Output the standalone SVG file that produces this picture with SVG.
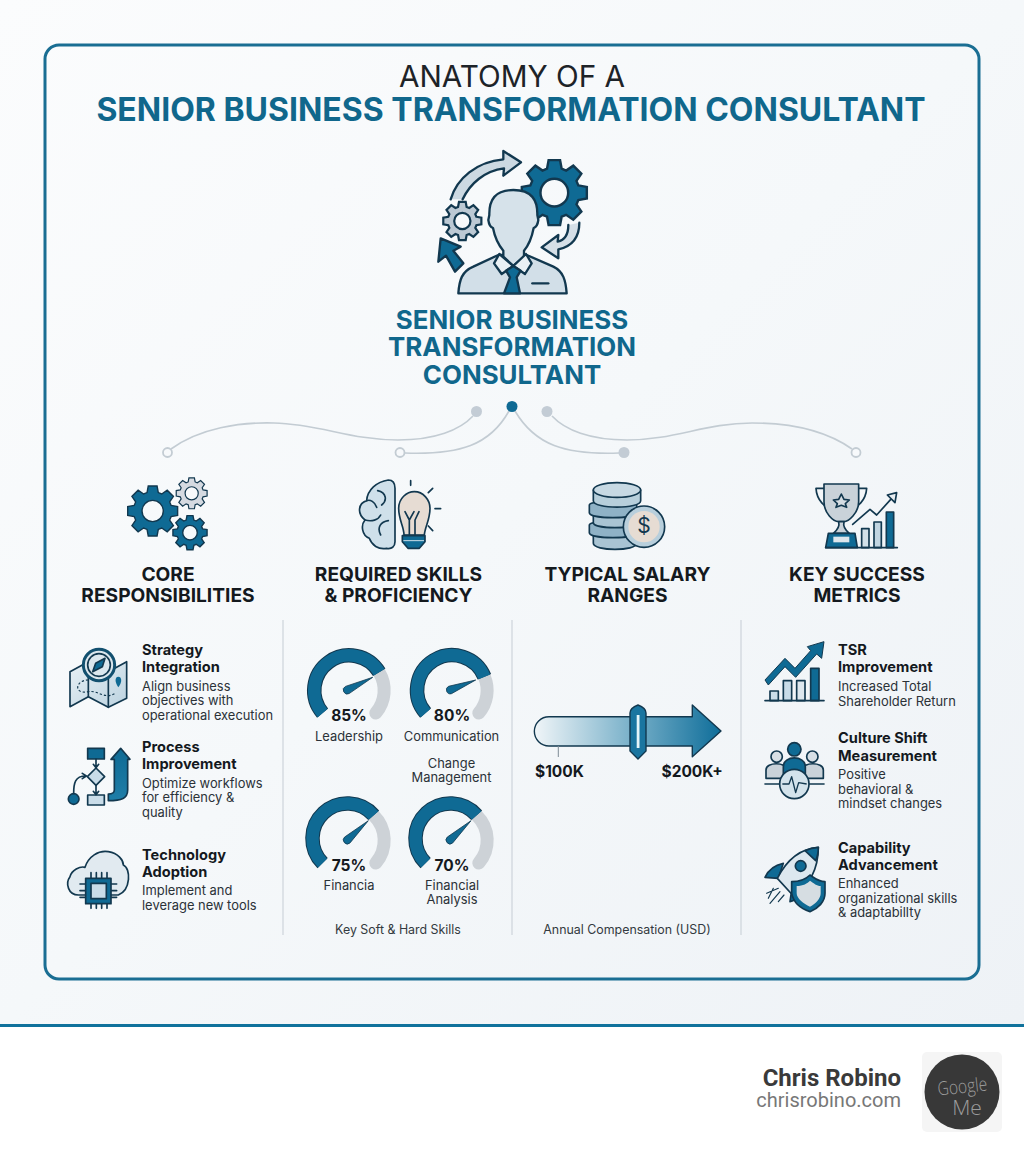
<svg xmlns="http://www.w3.org/2000/svg" width="1024" height="1154" viewBox="0 0 1024 1154">
<style>
text{font-family:Inter,"Liberation Sans",sans-serif}
.ti{font-size:32px;fill:#10678c;font-weight:700;text-anchor:middle}
.su{font-size:25.9px;fill:#10678c;font-weight:700;text-anchor:middle}
.hd{font-size:19.2px;fill:#14191e;font-weight:700;text-anchor:middle}
.it{font-size:14.6px;fill:#14191e;font-weight:700}
.ds{font-size:12.9px;fill:#2b3238}
.lb{font-size:12.9px;fill:#2b3238;text-anchor:middle}
.pc{font-size:15.5px;fill:#14191e;font-weight:700;text-anchor:middle}
.sl{font-size:15.5px;fill:#14191e;font-weight:700}
.cp{font-size:12.4px;fill:#333a40;text-anchor:middle}
.ln{fill:none;stroke:#c3ccd3;stroke-width:1.6}
.dv{stroke:#cdd4da;stroke-width:1.2}
.o{stroke:#12384f;stroke-width:7;stroke-linejoin:round;stroke-linecap:round}
.t{stroke:#12384f;stroke-width:5;stroke-linejoin:round;stroke-linecap:round}
.nf{fill:none}
.b{fill:#0f6a94}
.l{fill:#d2dfe8}
.g-s{vector-effect:non-scaling-stroke;fill-rule:evenodd}
.ga{fill:none;stroke:#12384f;stroke-width:14.5}
.gb{fill:none;stroke:#0f6a94;stroke-width:12.5}
.gg{fill:none;stroke:#cdd2d7;stroke-width:13;stroke-linecap:round}
.nd{fill:#0f6a94;stroke:#12384f;stroke-width:.8}
</style>
<defs>
<linearGradient id="bg" x1="0" y1="0" x2="1" y2="1"><stop offset="0" stop-color="#fbfcfd"/><stop offset=".5" stop-color="#f5f8fa"/><stop offset="1" stop-color="#eef2f6"/></linearGradient>
<linearGradient id="bar" x1="0" y1="0" x2="1" y2="0"><stop offset="0" stop-color="#f0f5f8"/><stop offset=".5" stop-color="#7db3cb"/><stop offset="1" stop-color="#0f6e9a"/></linearGradient>
<linearGradient id="lg" x1="0" y1="0" x2="1" y2="1"><stop offset="0" stop-color="#e8f0f5"/><stop offset="1" stop-color="#bcd3e0"/></linearGradient>
<linearGradient id="bu" x1="0" y1="0" x2="0" y2="1"><stop offset="0" stop-color="#0f6a94"/><stop offset="1" stop-color="#1f7ea8"/></linearGradient>
<path id="gear" class="g-s" d="M72.7-22.2L98.5-17.4L98.5 17.4L72.7 22.2L67.1 35.7L81.9 57.4L57.4 81.9L35.7 67.1L22.2 72.7L17.4 98.5L-17.4 98.5L-22.2 72.7L-35.7 67.1L-57.4 81.9L-81.9 57.4L-67.1 35.7L-72.7 22.2L-98.5 17.4L-98.5-17.4L-72.7-22.2L-67.1-35.7L-81.9-57.4L-57.4-81.9L-35.7-67.1L-22.2-72.7L-17.4-98.5L17.4-98.5L22.2-72.7L35.7-67.1L57.4-81.9L81.9-57.4L67.1-35.7ZM42 0A42 42 0 1 0-42 0A42 42 0 1 0 42 0Z"/>
</defs>
<rect width="1024" height="1154" fill="#fff"/>
<rect id="backdrop" width="1024" height="1025" fill="url(#bg)"/>
<rect x="0" y="1024" width="1024" height="3" fill="#10729c"/>
<rect id="frame" x="45" y="45" width="934" height="934" rx="14" fill="none" stroke="#1a6e93" stroke-width="3"/>

<g id="title">
<text x="512" y="87" font-size="29.700" fill="#1d2328" text-anchor="middle">ANATOMY OF A</text>
<text class="ti" x="511" y="121">SENIOR BUSINESS TRANSFORMATION CONSULTANT</text>
</g>

<g id="hero">
<g transform="translate(420 140) scale(.33333)">
<path class="o" fill="#ccd9e2" d="M92 178C110 115 170 65 250 58L250 33L303 67L250 107L252 85C195 92 150 130 128 178"/>
<path class="o b" d="M62 295L122 320L100 332L130 370L105 395L78 347L55 365Z"/>
<path class="o" fill="#d5dfe7" d="M478 248C478 290 460 318 415 328L415 355L365 322L415 285L413 305C435 300 445 280 445 255"/>
<use href="#gear" transform="translate(403 158) scale(.99)" class="b" stroke="#12384f" stroke-width="2.4"/>
<use href="#gear" transform="translate(127 243) scale(.58)" fill="#bcc9d4" stroke="#12384f" stroke-width="2.2"/>
<path class="o l" d="M115 460C118 420 125 395 160 380L235 345L320 345L400 380C430 395 437 420 440 460Z"/>
<path class="o" fill="#d6e2ea" d="M280 150C225 150 207 180 208 225L205 240C207 255 213 262 219 264C225 295 238 318 250 332L250 350L280 378L312 350L312 332C324 318 335 295 341 264C347 262 353 255 355 240L352 225C353 180 335 150 280 150Z"/>
<path class="o" fill="#e9f0f4" d="M238 342L222 370L245 402L280 378L315 402L335 370L318 342L280 378Z"/>
<path class="o b" d="M258 392L280 378L302 392L290 412L300 460L252 460L270 412Z"/>
<path class="o nf" d="M337 430L385 430"/>
</g>
</g>
<g id="role-label">
<text class="su" x="512" y="329">SENIOR BUSINESS</text>
<text class="su" x="512" y="356">TRANSFORMATION</text>
<text class="su" x="512" y="384">CONSULTANT</text>
</g>

<g id="connectors">
<path class="ln" d="M171 449C200 428 240 422 274 423C320 424 350 440 398 440C435 440 460 430 473 416"/>
<path class="ln" d="M552 416C565 430 590 440 627 440C675 440 705 423 752 423C790 423 825 430 852 449"/>
<path class="ln" d="M405 453C460 455 490 445 509 411"/>
<path class="ln" d="M515 411C535 445 565 455 619 453"/>
<circle cx="476.500" cy="411.500" r="5.500" fill="#c3ccd5"/>
<circle cx="512" cy="406.500" r="5.500" fill="#0f6a94"/>
<circle cx="547" cy="411.500" r="5.500" fill="#c3ccd5"/>
<circle cx="167.500" cy="452.500" r="4.500" fill="#f7f9fb" stroke="#c3ccd3" stroke-width="1.8"/>
<circle cx="400" cy="452.500" r="4.500" fill="#f7f9fb" stroke="#c3ccd3" stroke-width="1.8"/>
<circle cx="624" cy="452.500" r="5.500" fill="#c3ccd5"/>
<circle cx="856" cy="452.500" r="4.500" fill="#f7f9fb" stroke="#c3ccd3" stroke-width="1.8"/>
</g>

<line class="dv" x1="283" y1="620" x2="283" y2="935"/>
<line class="dv" x1="512" y1="620" x2="512" y2="935"/>
<line class="dv" x1="741" y1="620" x2="741" y2="935"/>

<g id="core-responsibilities">
<g transform="translate(110 470) scale(.33333)">
<use href="#gear" transform="translate(128 123) scale(.76)" class="b" stroke="#12384f" stroke-width="1.400"/>
<use href="#gear" transform="translate(245 70) scale(.47)" fill="#d5dae1" stroke="#12384f" stroke-width="1.200"/>
<use href="#gear" transform="translate(240 188) scale(.52)" class="b" stroke="#12384f" stroke-width="1.400"/>
</g>
<text class="hd" x="168" y="581">CORE</text>
<text class="hd" x="168" y="602">RESPONSIBILITIES</text>
<g transform="translate(55 630) scale(.33333)">
<path class="t" fill="url(#lg)" d="M45 125L100 95L160 125L215 95L215 205L160 232L100 200L45 230Z"/>
<path class="t nf" d="M100 95L100 200M160 125L160 232"/>
<path class="nf" stroke="#12384f" stroke-width="3.500" stroke-dasharray="7 6" d="M100 150C60 150 55 195 100 185C130 180 150 210 180 190"/>
<path class="b" d="M190 140C200 140 203 155 190 172C178 155 180 140 190 140Z"/>
<circle cx="132" cy="105" r="47" fill="#dbe7ee" stroke="#12506f" stroke-width="9"/>
<circle cx="132" cy="105" r="34" class="t" fill="#dbe7ee"/>
<path class="t" fill="#0f6a94" d="M150 85L122 100L113 125L142 110Z"/>
<path class="t b" d="M98 355H148V387H98Z"/>
<path class="t" fill="#c9dce8" d="M123 414L149 440L123 466L97 440Z"/>
<path class="t" fill="#c9dce8" d="M98 495H148V525H98Z"/>
<circle cx="56" cy="507" r="16" class="t b"/>
<path class="t nf" d="M56 490C56 460 60 438 92 438M82 430L94 438L82 446M123 387V412M115 403L123 413L131 403M123 466V493M115 484L123 494L131 484"/>
<path class="t" fill="url(#bu)" d="M160 512C200 512 218 505 218 480L218 388L225 388L197 355L168 388L178 388L178 480C178 490 172 492 160 492Z"/>
<path class="t" fill="#e1eaf0" d="M70 795C40 795 30 760 45 740C50 720 75 708 90 712C100 680 130 660 160 665C190 670 205 690 205 705C228 715 228 780 190 795Z"/>
<path class="t nf" d="M108 745V728M124 745V728M140 745V728M156 745V728M108 820V835M124 820V835M140 820V835M156 820V835M92 762H75M92 782H75M92 802H75M168 762H185M168 782H185M168 802H185"/>
<rect x="92" y="745" width="76" height="76" class="t b"/>
<rect x="108" y="760" width="46" height="46" class="t" fill="#c9dce8"/>
</g>
<text class="it" x="142" y="655">Strategy</text><text class="it" x="142" y="672">Integration</text>
<text class="ds" x="142" y="691">Align business</text><text class="ds" x="142" y="705">objectives with</text><text class="ds" x="142" y="720">operational execution</text>
<text class="it" x="142" y="752">Process</text><text class="it" x="142" y="769">Improvement</text>
<text class="ds" x="142" y="788">Optimize workflows</text><text class="ds" x="142" y="802">for efficiency &amp;</text><text class="ds" x="142" y="817">quality</text>
<text class="it" x="142" y="860">Technology</text><text class="it" x="142" y="877">Adoption</text>
<text class="ds" x="142" y="895">Implement and</text><text class="ds" x="142" y="910">leverage new tools</text>
</g>

<g id="required-skills">
<g transform="translate(110 470) scale(.33333)">
<path class="t" fill="#cfe0ea" d="M835 30C850 30 855 40 855 55L855 215C855 230 845 238 830 235C805 240 785 225 778 205C755 195 752 165 765 150C740 130 745 100 770 92C772 60 800 35 835 30Z"/>
<path class="t nf" d="M803 62C830 68 832 92 815 105M770 92C780 88 795 95 800 112M765 150C785 156 805 150 812 135M835 152C812 155 800 172 812 195"/>
<path class="t" fill="#e6dcd3" d="M882 195C882 170 866 150 866 115C866 85 890 65 913 65C940 65 960 90 960 115C960 150 945 170 943 195Z"/>
<path class="t nf" d="M898 195V150L885 125M898 150L912 125M927 125L915 150V195M902 32V46M968 55L955 68M975 116H992M955 168L968 182"/>
<path class="t b" d="M877 197H945V215L928 235H894L877 215Z"/>
<path d="M880 212H942" stroke="#cfe0ea" stroke-width="3"/>
</g>
<text class="hd" x="398.500" y="581">REQUIRED SKILLS</text>
<text class="hd" x="398.500" y="602">&amp; PROFICIENCY</text>

<g id="gauge-leadership">
<path class="gg" d="M375.800 713A35 35 0 0 0 379.200 672.300"/>
<path class="ga" d="M322.600 713.100A35 35 0 1 1 379.200 672.300"/>
<path class="gb" d="M322.600 713.100A35 35 0 1 1 379.200 672.300"/>
<path class="nd" d="M372.700 677.300L349.100 693.600A4 4 0 0 1 345.500 686.400Z"/>
<text class="pc" x="349" y="721">85%</text>
<text class="lb" x="349" y="741">Leadership</text>
</g>
<g id="gauge-communication">
<path class="gg" d="M478.800 713A35 35 0 0 0 484.400 676.800"/>
<path class="ga" d="M425.600 713.100A35 35 0 1 1 484.400 676.800"/>
<path class="gb" d="M425.600 713.100A35 35 0 1 1 484.400 676.800"/>
<path class="nd" d="M475.700 680L451.450 693.700A4 4 0 0 1 448.550 686.300Z"/>
<text class="pc" x="452" y="721">80%</text>
<text class="lb" x="451.500" y="741">Communication</text>
</g>
<text class="lb" x="451.500" y="768">Change</text>
<text class="lb" x="451.500" y="782">Management</text>
<g id="gauge-financia">
<path class="gg" d="M375.800 863A35 35 0 0 0 373.700 815.300"/>
<path class="ga" d="M322.600 863.100A35 35 0 1 1 373.700 815.300"/>
<path class="gb" d="M322.600 863.100A35 35 0 1 1 373.700 815.300"/>
<path class="nd" d="M368.300 820.700L350 842.950A4 4 0 0 1 344.600 837.050Z"/>
<text class="pc" x="349" y="871">75%</text>
<text class="lb" x="349" y="890">Financia</text>
</g>
<g id="gauge-financial-analysis">
<path class="gg" d="M478.800 863A35 35 0 0 0 476.700 815.300"/>
<path class="ga" d="M425.600 863.100A35 35 0 1 1 476.700 815.300"/>
<path class="gb" d="M425.600 863.100A35 35 0 1 1 476.700 815.300"/>
<path class="nd" d="M471 820.700L452.700 842.950A4 4 0 0 1 447.300 837.050Z"/>
<text class="pc" x="452" y="871">70%</text>
<text class="lb" x="452" y="890">Financial</text>
<text class="lb" x="452" y="904">Analysis</text>
</g>
<text class="cp" x="398" y="934">Key Soft &amp; Hard Skills</text>
</g>

<g id="salary-ranges">
<g transform="translate(570 470) scale(.33333)">
<path class="t" fill="#a9c4d3" d="M70 198C70 183 200 183 200 198V220C200 244 70 244 70 220Z"/>
<path class="t" fill="#8fb2c6" d="M58 165C58 150 200 150 200 165V188C200 208 58 208 58 188Z"/>
<path class="t" fill="#a9c4d3" d="M70 135C70 120 200 120 200 135V158C200 178 70 178 70 158Z"/>
<path class="t" fill="#8fb2c6" d="M58 105C58 90 200 90 200 105V128C200 148 58 148 58 128Z"/>
<path class="t" fill="#b7cfdb" d="M70 60V92C70 118 212 118 212 92V60Z"/>
<ellipse cx="141" cy="60" rx="71" ry="22" class="t" fill="#c7d9e3"/>
<circle cx="222" cy="170" r="62" class="t" fill="#b8cfdc"/>
<circle cx="222" cy="170" r="47" fill="#e6dcd3"/>
</g>
<text x="644" y="533" font-size="21" fill="#12384f" text-anchor="middle">$</text>
<text class="hd" x="627.500" y="581">TYPICAL SALARY</text>
<text class="hd" x="627.500" y="602">RANGES</text>
<path fill="url(#bar)" stroke="#12384f" stroke-width="1.400" stroke-linejoin="round" d="M549 716.700H692.300V705L721 731L692.300 756.700V746H549A14.650 14.650 0 0 1 549 716.700Z"/>
<line x1="558.300" y1="746" x2="558.300" y2="757" stroke="#7d8b95" stroke-width="1"/>
<path d="M630 713Q630 708 638 705Q646 708 646 713V751L638 759L630 751Z" fill="#1a75a0" stroke="#12384f" stroke-width="1.400"/>
<rect x="636.700" y="715" width="2.800" height="33" fill="#e4f5fa"/>
<text class="sl" x="535" y="777">$100K</text>
<text class="sl" x="661.500" y="777">$200K+</text>
<text class="cp" x="627" y="934">Annual Compensation (USD)</text>
</g>

<g id="success-metrics">
<g transform="translate(570 470) scale(.33333)">
<path class="t nf" d="M765 55H738C740 90 765 115 790 120M862 55H890C888 90 862 115 838 120"/>
<path class="t" fill="#c9d2d9" d="M762 42H866V95C866 130 835 155 822 155H806C790 155 762 130 762 95Z"/>
<path class="t" fill="#d5dde3" d="M814 72L822 88L838 90L826 101L830 112L814 106L798 112L802 101L790 90L806 88Z"/>
<path class="t" fill="#c9d2d9" d="M806 155C810 170 802 180 790 190H838C826 180 818 170 822 155Z"/>
<path class="t b" d="M775 190H855L862 233H767Z"/>
<rect x="790" y="200" width="48" height="17" fill="#dde6ec"/>
<rect x="875" y="176" width="22" height="57" class="t" fill="#d2e0e8"/>
<rect x="912" y="156" width="22" height="77" class="t" fill="#c1d5e1"/>
<rect x="949" y="126" width="22" height="107" class="t b"/>
<path class="t nf" d="M848 163L900 118L920 135L965 85M767 233H982"/>
<path class="t" fill="#e8eef2" d="M952 75L980 68L975 98Z"/>
</g>
<text class="hd" x="857" y="581">KEY SUCCESS</text>
<text class="hd" x="857" y="602">METRICS</text>
<g transform="translate(750 630) scale(.33333)">
<rect x="60" y="183" width="25" height="29" class="t" fill="#c9dce8"/>
<rect x="100" y="152" width="25" height="60" class="t" fill="#c9dce8"/>
<rect x="140" y="152" width="25" height="60" class="t" fill="#dde7ee"/>
<rect x="182" y="115" width="25" height="97" class="t b"/>
<path class="t nf" d="M45 212H222"/>
<path class="b" stroke="#12384f" stroke-width="3" stroke-linejoin="round" d="M45 150L105 85L135 115L182 62L172 50L222 35L215 85L200 72L137 142L105 110L55 165Z"/>
<path class="t" fill="#c9d2d9" d="M48 445V420C48 395 110 395 110 420V445Z"/>
<path class="t" fill="#c9d2d9" d="M157 445V420C157 395 220 395 220 420V445Z"/>
<circle cx="80" cy="380" r="17" class="t" fill="#d7dfe5"/>
<circle cx="187" cy="380" r="17" class="t" fill="#d7dfe5"/>
<path class="t b" d="M100 445V410C100 375 166 375 166 410V445Z"/>
<circle cx="133" cy="358" r="20" class="t b"/>
<path class="t nf" d="M45 462H222"/>
<circle cx="133" cy="462" r="44" class="t" fill="#d3e3ec"/>
<path class="nf" stroke="#12384f" stroke-width="4" stroke-linejoin="round" d="M97 462H117L125 440L137 488L146 458L170 462"/>
<path class="t b" d="M100 700C75 705 55 720 45 742L85 745Z"/>
<path class="t b" d="M125 780L120 815C145 810 160 790 165 770Z"/>
<path class="t" fill="#dde8ef" d="M205 652C160 655 115 680 82 745L125 792C180 770 205 715 205 652Z"/>
<path class="t b" d="M205 652C190 653 178 656 165 662L197 692C203 680 205 665 205 652Z"/>
<circle cx="152" cy="708" r="16" class="t" fill="#0f6a94"/>
<path class="t b" d="M125 755C150 755 170 745 180 735C195 745 205 755 225 755L225 790C225 815 205 835 180 845C150 835 130 815 125 790Z"/>
<path d="M140 768C160 768 172 760 180 752C192 760 200 768 212 768V790C212 805 198 822 180 830C160 822 140 805 140 790Z" fill="#d6dde2"/>
<path class="nf" stroke="#12384f" stroke-width="3.500" stroke-linecap="round" d="M85 775L50 790M90 785L60 820M102 795L85 815M70 775L55 805"/>
</g>
<text class="it" x="838" y="655">TSR</text><text class="it" x="838" y="672">Improvement</text>
<text class="ds" x="838" y="691">Increased Total</text><text class="ds" x="838" y="706">Shareholder Return</text>
<text class="it" x="838" y="743">Culture Shift</text><text class="it" x="838" y="761">Measurement</text>
<text class="ds" x="838" y="779">Positive</text><text class="ds" x="838" y="794">behavioral &amp;</text><text class="ds" x="838" y="808">mindset changes</text>
<text class="it" x="838" y="853">Capability</text><text class="it" x="838" y="870">Advancement</text>
<text class="ds" x="838" y="888">Enhanced</text><text class="ds" x="838" y="903">organizational skills</text><text class="ds" x="838" y="917">&amp; adaptabillty</text>
</g>

<g id="footer">
<text x="901" y="1086" font-size="24" font-weight="700" fill="#3a3a3a" text-anchor="end" style="font-family:Roboto,sans-serif">Chris Robino</text>
<text x="901" y="1107" font-size="20" fill="#777" text-anchor="end" style="font-family:Roboto,sans-serif">chrisrobino.com</text>
<rect x="922" y="1052" width="80" height="80" rx="5" fill="#f5f5f5"/>
<circle cx="962" cy="1092" r="37.500" fill="#383838"/>
<text x="963" y="1093" font-size="19" fill="#9c9c9c" text-anchor="middle" transform="rotate(-6 963 1093)" textLength="50" lengthAdjust="spacingAndGlyphs" style="font-family:'Open Sans',sans-serif;font-weight:300">Google</text>
<text x="967" y="1115" font-size="21" fill="#9c9c9c" text-anchor="middle" style="font-family:'Open Sans',sans-serif;font-weight:300">Me</text>
</g>
</svg>
